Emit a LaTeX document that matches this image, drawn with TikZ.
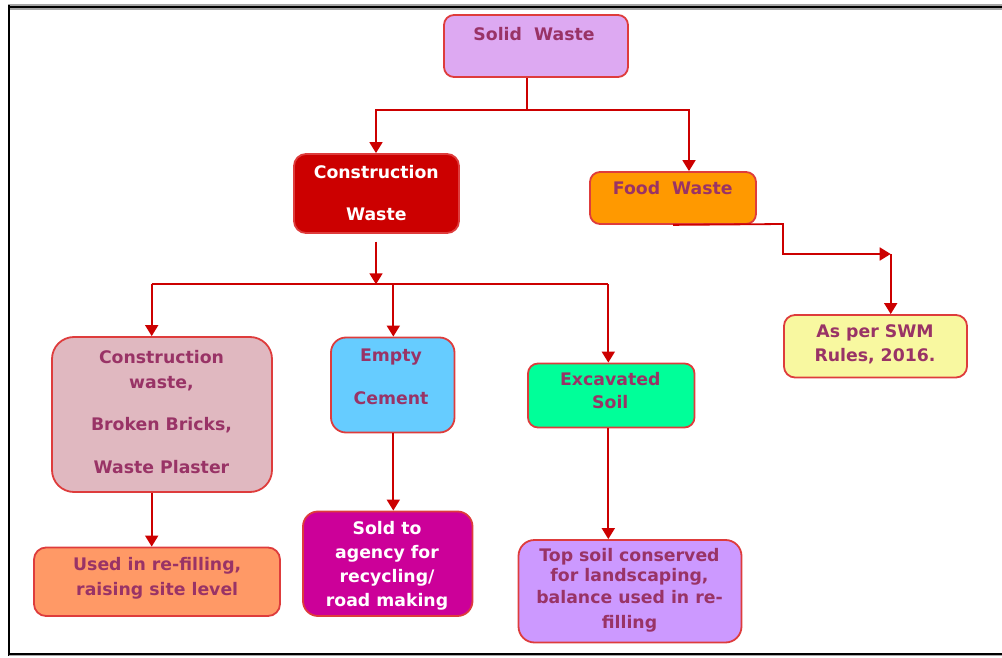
\documentclass[tikz,border=0pt]{standalone}
\usepackage{fontspec}
\setmainfont{DejaVu Sans}
\usetikzlibrary{arrows.meta}
\definecolor{tcol}{RGB}{153,51,102}
\definecolor{bcol}{RGB}{222,60,60}
\definecolor{ccol}{RGB}{204,0,0}
\definecolor{fsw}{RGB}{221,169,242}
\definecolor{fcw}{RGB}{204,0,0}
\definecolor{ffw}{RGB}{255,153,0}
\definecolor{fswm}{RGB}{248,248,160}
\definecolor{fcwb}{RGB}{224,184,192}
\definecolor{fec}{RGB}{102,204,255}
\definecolor{fes}{RGB}{0,255,153}
\definecolor{fused}{RGB}{255,153,102}
\definecolor{fsold}{RGB}{204,0,153}
\definecolor{ftsc}{RGB}{204,153,255}
\newcommand\myfs[1]{\fontsize{17.3}{#1}\selectfont\bfseries}
\begin{document}
\begin{tikzpicture}[x=1pt,y=-1pt,
  box/.style={draw=bcol,line width=1.8pt,inner sep=0pt},
  txt/.style={text=tcol,align=center,inner sep=0pt,anchor=base},
  conn/.style={draw=ccol,line width=1.8pt},
  arr/.style={conn,-{Triangle[width=13pt,length=11pt]}}]
\useasboundingbox (0,0) rectangle (1002,658);
% frame
\fill[gray!70] (8,4.5) rectangle (1002,10);
\draw[black,line width=2pt] (8,7.5) -- (1002,7.5);
\draw[black,line width=2pt] (9,5) -- (9,656);
\draw[gray!70,line width=1.5pt] (9,655.5) -- (1002,655.5);
\draw[black,line width=1.5pt] (9,654) -- (1002,654);
% boxes
\node[box,fill=fsw,rounded corners=10pt,minimum width=184pt,minimum height=62pt] (sw) at (536,46) {};
\node[box,fill=fcw,rounded corners=12pt,minimum width=165pt,minimum height=79pt] (cw) at (376.5,193.5) {};
\node[box,fill=ffw,rounded corners=10pt,minimum width=166pt,minimum height=52pt] (fw) at (673,198) {};
\node[box,fill=fswm,rounded corners=11pt,minimum width=183pt,minimum height=62.5pt] (swm) at (875.5,346.25) {};
\node[box,fill=fcwb,rounded corners=22pt,minimum width=220pt,minimum height=155pt] (cwb) at (162,414.5) {};
\node[box,fill=fec,rounded corners=15pt,minimum width=123.5pt,minimum height=95pt] (ec) at (392.75,385) {};
\node[box,fill=fes,rounded corners=10pt,minimum width=166.5pt,minimum height=64pt] (es) at (611.25,395.5) {};
\node[box,fill=fused,rounded corners=12pt,minimum width=246pt,minimum height=68.5pt] (used) at (157,581.75) {};
\node[box,fill=fsold,rounded corners=15pt,minimum width=169.5pt,minimum height=104.5pt] (sold) at (387.75,563.75) {};
\node[box,fill=ftsc,rounded corners=16pt,minimum width=223pt,minimum height=102.5pt] (tsc) at (630,591.25) {};
% texts (anchored at the baseline of the last line)
\node[txt,font=\myfs{24}] (swt) at (534,40.7) {Solid\ \ Waste};
\node[txt,font=\myfs{42.4},text=white] (cwt) at (376.3,220.7) {Construction\\Waste};
\node[txt,font=\myfs{24}] (fwt) at (672.8,194.7) {Food\ \ Waste};
\node[txt,font=\myfs{24.4}] (swmt) at (875,361.7) {As per SWM\\Rules, 2016.};
\node[txt,font=\myfs{25}] (cwbt) at (161.5,473.3) {Construction\\waste,\\[17.5pt]Broken Bricks,\\[17.5pt]Waste Plaster};
\node[txt,font=\myfs{42.6}] (ect) at (391,404.3) {Empty\\Cement};
\node[txt,font=\myfs{23.3}] (est) at (610.3,408.3) {Excavated\\Soil};
\node[txt,font=\myfs{25}] (usedt) at (157.2,595) {Used in re-filling,\\raising site level};
\node[txt,font=\myfs{23.9},text=white] (soldt) at (387,606) {Sold to\\agency for\\recycling/\\road making};
\node[txt,font=\myfs{20}] (tsct) at (629.5,628.3) {Top soil conserved\\[0pt]for landscaping,\\[1.6pt]balance used in re-\\[5pt]filling};
% connectors
\coordinate (j1) at (527,110);
\coordinate (cwin) at (376,110);
\coordinate (fwin) at (689,110);
\draw[conn] (j1 |- sw.south) -- (j1);
\draw[arr] (j1) -- (cwin) -- (cwin |- cw.north);
\draw[arr] (j1) -- (fwin) -- (fwin |- fw.north);
\coordinate (f2) at (783,224);
\coordinate (f3) at (783,254);
\coordinate (f4) at (890.7,254);
\draw[arr] (fw.south) -- (f2) -- (f3) -- (f4);
\draw[arr] (f4) -- (f4 |- swm.north);
\coordinate (c0) at (376,241.7);
\coordinate (j2) at (376,284.3);
\draw[arr] (c0) -- (j2);
\coordinate (h1) at (151.7,284.3);
\coordinate (h2) at (393.3,284.3);
\coordinate (h3) at (608.3,284.3);
\draw[conn] (h1) -- (h3);
\draw[arr] (h1) -- (h1 |- cwb.north);
\draw[arr] (h2) -- (h2 |- ec.north);
\draw[arr] (h3) -- (h3 |- es.north);
\draw[arr] (cwb.south -| h1) -- (used.north -| h1);
\draw[arr] (ec.south -| h2) -- (sold.north -| h2);
\draw[arr] (es.south -| h3) -- (tsc.north -| h3);
\end{tikzpicture}
\end{document}
